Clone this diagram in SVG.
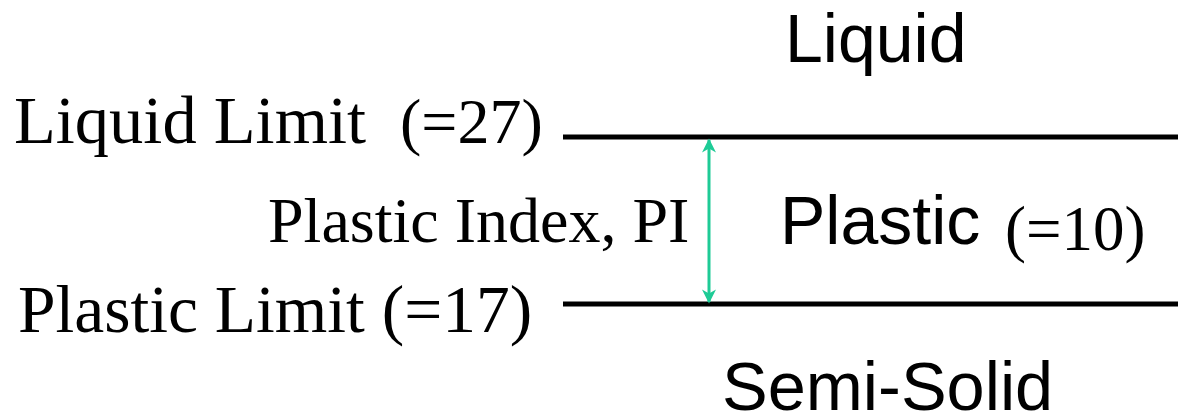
<svg xmlns="http://www.w3.org/2000/svg" width="1178" height="418" viewBox="0 0 1178 418">
<style>
.serif{font-family:"Liberation Serif","Times New Roman",serif;fill:#000}
.sans{font-family:"Liberation Sans",Arial,sans-serif;fill:#000}
.limit{stroke:#000;stroke-width:5}
.pi{stroke:#1ecb96;stroke-width:3;fill:none}
</style>
<defs>
<marker id="ah" viewBox="0 0 10 10" refX="9" refY="5" markerWidth="16" markerHeight="14" orient="auto-start-reverse" markerUnits="userSpaceOnUse">
<path d="M0,0 L10,5 L0,10 L3,5 z" fill="#1ecb96"/>
</marker>
</defs>
<rect width="1178" height="418" fill="#fff"/>
<g id="liquid-zone"><text class="sans" x="785" y="62" font-size="68">Liquid</text></g>
<g id="liquid-limit">
<line class="limit" x1="563" y1="137" x2="1178" y2="137"/>
<text class="serif" x="14" y="143" font-size="68.5">Liquid Limit</text>
<text class="serif" x="400" y="143" font-size="64">(=27)</text>
</g>
<g id="plastic-zone">
<text class="sans" x="780" y="244" font-size="68">Plastic</text>
<text class="serif" x="1005" y="250" font-size="63">(=10)</text>
</g>
<g id="pi-label"><text class="serif" x="268" y="242" font-size="64">Plastic Index, PI</text></g>
<g id="plastic-limit">
<line class="limit" x1="563" y1="304" x2="1178" y2="304"/>
<text class="serif" x="18" y="332" font-size="67.5">Plastic Limit (=17)</text>
</g>
<g id="semi-solid"><text class="sans" x="722" y="410" font-size="68.5">Semi-Solid</text></g>
<g id="connectors">
<line class="pi" x1="709" y1="140" x2="709" y2="302" marker-start="url(#ah)" marker-end="url(#ah)"/>
</g>
</svg>
